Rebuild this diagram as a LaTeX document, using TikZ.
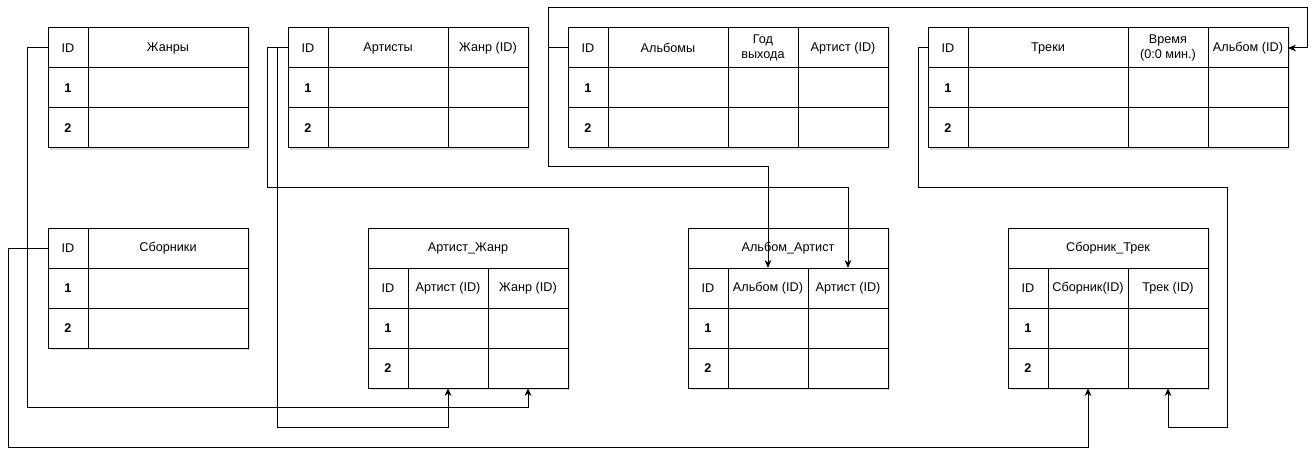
\documentclass[tikz,border=0pt]{standalone}
\usepackage{fontspec}
\setmainfont{Liberation Sans}
\usepackage{tikz}
\usetikzlibrary{arrows.meta,shadows}
\tikzstyle{tablebox} = [
    draw,
    fill=white,
    line width=0.75pt,
    inner sep=0pt,
    outer sep=0pt,
    anchor=north west,
    drop shadow={shadow xshift=1.5pt, shadow yshift=-1.5pt, opacity=0.25}
    ]
\tikzstyle{cellbox} = [
    draw,
    line width=0.75pt,
    inner sep=0pt,
    outer sep=0pt,
    minimum height=30pt,
    align=center,
    anchor=north west,
    font=\fontsize{9.5}{11.5}\selectfont
    ]
\tikzstyle{link} = [
    draw,
    line width=0.75pt,
    -{Stealth[length=6pt, width=5pt]}
    ]
\newcommand{\tabframe}[5]{% name, x, y, width, height
\node[tablebox, minimum width=#4*0.75pt, minimum height=#5*0.75pt] (#1) at (#2,#3) {};}
\newcommand{\cell}[5]{% x, y, width, name, text
\node[cellbox, minimum width=#3*0.75pt] (#4) at (#1,#2) {#5};}

\begin{document}
\begin{tikzpicture}[x=0.75pt, y=-0.75pt]
\useasboundingbox (0,0) rectangle (1316,456);

% Жанры
\tabframe{zhanry}{48}{28}{200}{120}
\cell{48}{28}{40}{zh-id}{ID}
\cell{88}{28}{160}{zh-name}{Жанры}
\foreach \r/\y in {1/68,2/108}{
  \cell{48}{\y}{40}{zh-\r}{\textbf{\r}}
  \cell{88}{\y}{160}{zh-\r a}{}
}

% Артисты
\tabframe{artisty}{288}{28}{240}{120}
\cell{288}{28}{40}{ar-id}{ID}
\cell{328}{28}{120}{ar-name}{Артисты}
\cell{448}{28}{80}{ar-zh}{Жанр (ID)}
\foreach \r/\y in {1/68,2/108}{
  \cell{288}{\y}{40}{ar-\r}{\textbf{\r}}
  \cell{328}{\y}{120}{ar-\r a}{}
  \cell{448}{\y}{80}{ar-\r b}{}
}

% Альбомы
\tabframe{albomy}{568}{28}{320}{120}
\cell{568}{28}{40}{al-id}{ID}
\cell{608}{28}{120}{al-name}{Альбомы}
\cell{728}{28}{70}{al-god}{Год\\выхода}
\cell{798}{28}{90}{al-art}{Артист (ID)}
\foreach \r/\y in {1/68,2/108}{
  \cell{568}{\y}{40}{al-\r}{\textbf{\r}}
  \cell{608}{\y}{120}{al-\r a}{}
  \cell{728}{\y}{70}{al-\r b}{}
  \cell{798}{\y}{90}{al-\r c}{}
}

% Треки
\tabframe{treki}{928}{28}{360}{120}
\cell{928}{28}{40}{tr-id}{ID}
\cell{968}{28}{160}{tr-name}{Треки}
\cell{1128}{28}{80}{tr-time}{Время\\(0:0 мин.)}
\cell{1208}{28}{80}{tr-alb}{Альбом (ID)}
\foreach \r/\y in {1/68,2/108}{
  \cell{928}{\y}{40}{tr-\r}{\textbf{\r}}
  \cell{968}{\y}{160}{tr-\r a}{}
  \cell{1128}{\y}{80}{tr-\r b}{}
  \cell{1208}{\y}{80}{tr-\r c}{}
}

% Сборники
\tabframe{sborniki}{48}{228}{200}{120}
\cell{48}{228}{40}{sb-id}{ID}
\cell{88}{228}{160}{sb-name}{Сборники}
\foreach \r/\y in {1/268,2/308}{
  \cell{48}{\y}{40}{sb-\r}{\textbf{\r}}
  \cell{88}{\y}{160}{sb-\r a}{}
}

% Артист_Жанр
\tabframe{artzh}{368}{228}{200}{160}
\cell{368}{228}{200}{aj-title}{Артист\_Жанр}
\cell{368}{268}{40}{aj-id}{ID}
\cell{408}{268}{80}{aj-art}{Артист (ID)}
\cell{488}{268}{80}{aj-zh}{Жанр (ID)}
\foreach \r/\y in {1/308,2/348}{
  \cell{368}{\y}{40}{aj-\r}{\textbf{\r}}
  \cell{408}{\y}{80}{aj-\r a}{}
  \cell{488}{\y}{80}{aj-\r b}{}
}

% Альбом_Артист
\tabframe{albart}{688}{228}{200}{160}
\cell{688}{228}{200}{aa-title}{Альбом\_Артист}
\cell{688}{268}{40}{aa-id}{ID}
\cell{728}{268}{80}{aa-alb}{Альбом (ID)}
\cell{808}{268}{80}{aa-art}{Артист (ID)}
\foreach \r/\y in {1/308,2/348}{
  \cell{688}{\y}{40}{aa-\r}{\textbf{\r}}
  \cell{728}{\y}{80}{aa-\r a}{}
  \cell{808}{\y}{80}{aa-\r b}{}
}

% Сборник_Трек
\tabframe{sbtr}{1008}{228}{200}{160}
\cell{1008}{228}{200}{st-title}{Сборник\_Трек}
\cell{1008}{268}{40}{st-id}{ID}
\cell{1048}{268}{80}{st-sb}{Сборник(ID)}
\cell{1128}{268}{80}{st-tr}{Трек (ID)}
\foreach \r/\y in {1/308,2/348}{
  \cell{1008}{\y}{40}{st-\r}{\textbf{\r}}
  \cell{1048}{\y}{80}{st-\r a}{}
  \cell{1128}{\y}{80}{st-\r b}{}
}

% bends
\coordinate (b-zh) at (27,407);
\coordinate (b-ar1) at (277,427);
\coordinate (b-ar2) at (267,187);
\coordinate (b-al1) at (548,167);
\coordinate (b-al2) at (548,8);
\coordinate (b-al3) at (1307,48);
\coordinate (b-tr1) at (918,187);
\coordinate (b-tr2) at (1227,427);
\coordinate (b-sb) at (8,447);

% links
\draw[link] (zh-id.west) -| (b-zh) -| (aj-2b.south);
\draw[link] (ar-id.west) -| (b-ar1) -| (aj-2a.south);
\draw[link] (ar-id.west) -| (b-ar2) -| (aa-art.north);
\draw[link] (al-id.west) -| (b-al1) -| (aa-alb.north);
\draw[link] (al-id.west) -| (b-al2) -| (b-al3) -- (tr-alb.east);
\draw[link] (tr-id.west) -| (b-tr1) -| (b-tr2) -| (st-2b.south);
\draw[link] (sb-id.west) -| (b-sb) -| (st-2a.south);
\end{tikzpicture}
\end{document}
